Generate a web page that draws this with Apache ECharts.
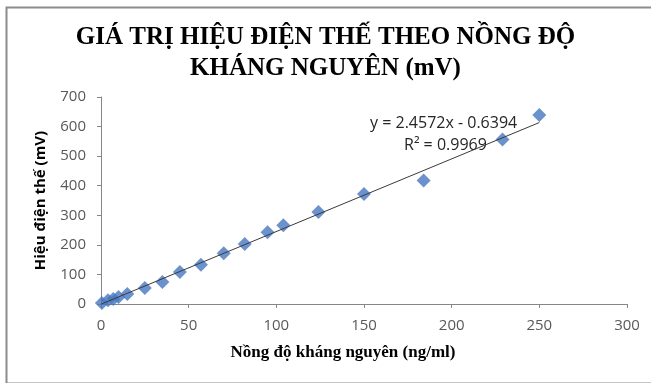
<!DOCTYPE html>
<html>
<head>
<meta charset="utf-8">
<script src="https://cdn.jsdelivr.net/npm/echarts@6/dist/echarts.min.js"></script>
<style>html,body{margin:0;padding:0;background:#fff}#c{width:651px;height:383px}</style>
</head>
<body>
<div id="c"></div>
<script>
const titleLines = ['GIÁ TRỊ HIỆU ĐIỆN THẾ THEO NỒNG ĐỘ', 'KHÁNG NGUYÊN (mV)'];
const xAxisName = 'Nồng độ kháng nguyên (ng/ml)';
const yAxisName = 'Hiệu điện thế (mV)';
const concentration = [0.5, 4, 7, 10, 15, 25, 35, 45, 57, 70, 82, 95, 104, 124, 150, 184, 229, 250];
const voltage = [3, 13, 17, 24, 34, 54, 74, 108, 133, 172, 203, 243, 266, 311, 372, 418, 556, 639];
const slope = 2.4572;
const intercept = -0.6394;
const r2 = 0.9969;
const trendRange = [0, 250];
const equationText = 'y = 2.4572x - 0.6394';
const r2Text = 'R² = 0.9969';

const points = concentration.map((c, i) => [c, voltage[i]]);
const trend = trendRange.map(x => [x, slope * x + intercept]);

const chart = echarts.init(document.getElementById('c'));
const sans = 'Open Sans, Liberation Sans, sans-serif';
const axisFont = { fontFamily: sans, fontSize: 15, color: '#595959' };
chart.setOption({
  animation: false,
  backgroundColor: '#fff',
  title: {
    text: titleLines.join('\n'),
    left: 'center', top: 17,
    textStyle: { fontFamily: 'Liberation Serif', fontWeight: 'bold', fontSize: 25, color: '#000', lineHeight: 31 }
  },
  grid: { left: 101, right: 24, top: 97, bottom: 79 },
  xAxis: {
    type: 'value', min: 0, max: 300, interval: 50,
    name: xAxisName, nameLocation: 'middle', nameGap: 40,
    nameTextStyle: { fontFamily: 'Liberation Serif', fontWeight: 'bold', fontSize: 17, color: '#000', padding: [0, 42, 0, 0] },
    axisLine: { lineStyle: { color: '#868686' } },
    axisTick: { show: true, length: 4, lineStyle: { color: '#868686' } },
    axisLabel: Object.assign({ margin: 14 }, axisFont),
    splitLine: { show: false }
  },
  yAxis: {
    type: 'value', min: 0, max: 700, interval: 100,
    name: yAxisName, nameLocation: 'middle', nameGap: 53,
    nameTextStyle: { fontFamily: sans, fontWeight: 'bold', fontSize: 15, color: '#000' },
    axisLine: { show: true, lineStyle: { color: '#868686' } },
    axisTick: { show: true, length: 4, lineStyle: { color: '#868686' } },
    axisLabel: Object.assign({ margin: 15 }, axisFont),
    splitLine: { show: false }
  },
  graphic: [
    { type: 'rect', left: 4, top: 5, z: -1, shape: { width: 700, height: 376 }, style: { fill: 'none', stroke: '#8c8c8c', lineWidth: 2 } },
    { type: 'text', left: 370, top: 115, style: { text: equationText, fontFamily: sans, fontSize: 16, fill: '#262626' } },
    { type: 'text', left: 404, top: 137, style: { text: r2Text, fontFamily: sans, fontSize: 16, fill: '#262626' } }
  ],
  series: [
    {
      type: 'line', data: trend, symbol: 'none', z: 3,
      lineStyle: { color: '#3a3a3a', width: 1 }
    },
    {
      type: 'scatter', data: points, symbol: 'diamond', symbolSize: 14, z: 2,
      itemStyle: { color: '#4677bf' }
    }
  ]
});
</script>
</body>
</html>
